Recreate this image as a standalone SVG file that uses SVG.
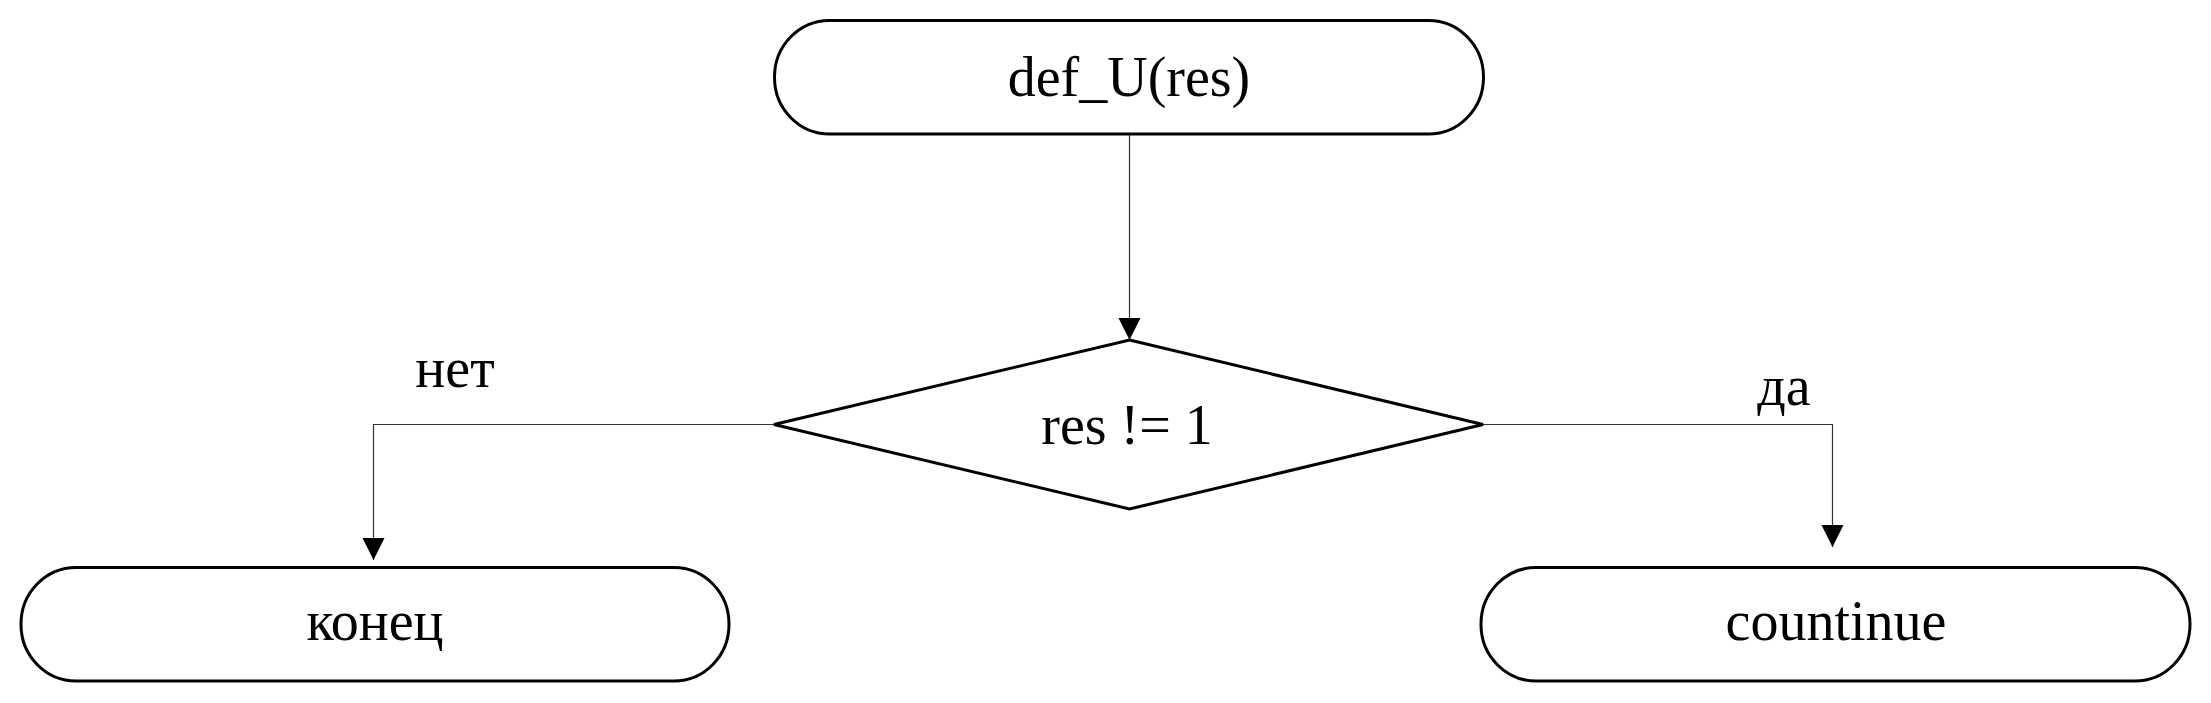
<svg xmlns="http://www.w3.org/2000/svg" width="2211" height="703" viewBox="0 0 2211 703">
<style>
.node{fill:#fff;stroke:#000;stroke-width:3}
.lbl{font-family:"Liberation Serif","Times New Roman",serif;font-size:56px;fill:#000;text-anchor:middle}
.edge{fill:none;stroke:#333;stroke-width:1.2}
</style>
<defs>
<marker id="arr" markerWidth="23" markerHeight="23" refX="22" refY="11" orient="auto" markerUnits="userSpaceOnUse">
<path d="M0,0 L22,11 L0,22 Z" fill="#000"/>
</marker>
</defs>
<rect width="2211" height="703" fill="#fff"/>
<g id="connectors">
<path class="edge" d="M1129.5,134 L1129.5,340" marker-end="url(#arr)"/>
<path class="edge" d="M774,424.5 L373.5,424.5 L373.5,560" marker-end="url(#arr)"/>
<path class="edge" d="M1483,424.5 L1832.5,424.5 L1832.5,547" marker-end="url(#arr)"/>
<text class="lbl" x="455" y="387">нет</text>
<text class="lbl" x="1784" y="405">да</text>
</g>
<g id="start">
<rect class="node" x="774.5" y="20.5" width="709" height="113.5" rx="55" ry="56.5"/>
<text class="lbl" x="1129" y="96">def_U(res)</text>
</g>
<g id="decision">
<polygon class="node" points="1129.5,340 1483,424.5 1129.5,509 774,424.5"/>
<text class="lbl" x="1127" y="444">res != 1</text>
</g>
<g id="end">
<rect class="node" x="21" y="567.5" width="708" height="113.5" rx="55" ry="56.5"/>
<text class="lbl" x="375" y="640">конец</text>
</g>
<g id="continue">
<rect class="node" x="1481" y="567.5" width="709" height="113.5" rx="55" ry="56.5"/>
<text class="lbl" x="1836" y="640">countinue</text>
</g>
</svg>
